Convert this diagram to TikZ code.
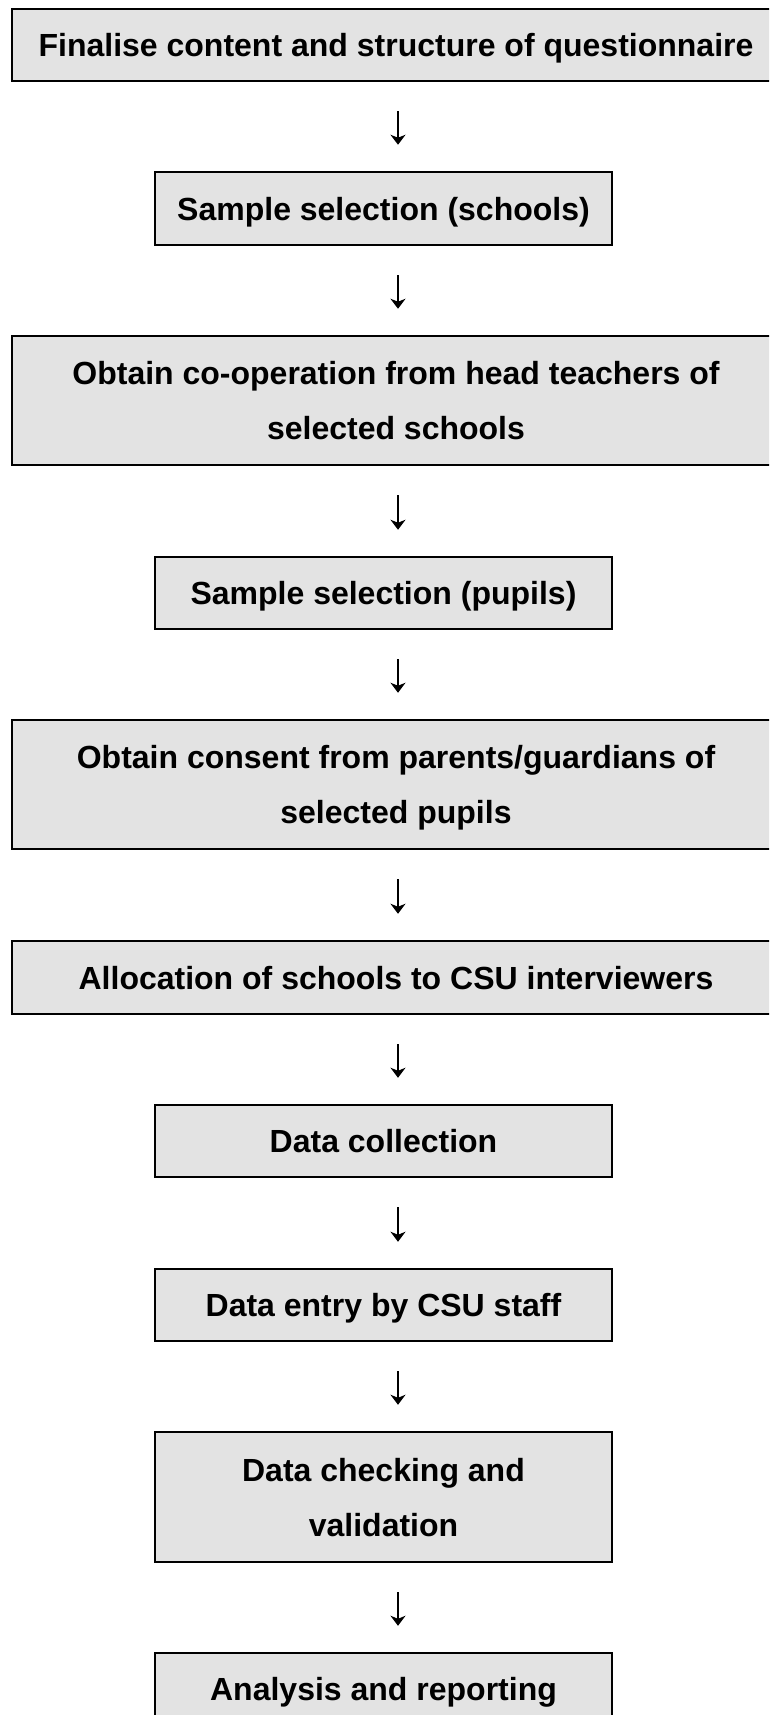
\documentclass[tikz,border=0pt]{standalone}
\usepackage{fontspec}
\setmainfont{Liberation Sans}
\usetikzlibrary{arrows.meta}
\definecolor{boxfill}{RGB}{227,227,227}
\begin{document}
\begin{tikzpicture}[x=1pt,y=-1pt,
  box/.style={draw=black, line width=2.5pt, fill=boxfill,
    font=\fontsize{32}{55}\selectfont\bfseries, align=center, inner sep=0pt},
  wide/.style={box, minimum width=768pt},
  narrow/.style={box, minimum width=457pt},
  one/.style={text height=23pt, text depth=0pt},
  two/.style={text height=78pt, text depth=0pt},
  arr/.style={line width=1.3pt, -{Stealth[length=10pt,width=15pt,inset=3pt]},
    shorten <=29pt, shorten >=26pt}]
\useasboundingbox (0,0) rectangle (769,1715);
\clip (0,0) rectangle (769,1715);
\coordinate (ax) at (398,0);
\node[wide,one,minimum height=72pt] (n1) at (396,45) {Finalise content and structure of questionnaire};
\node[narrow,one,minimum height=73pt] (n2) at (383.5,208.5) {Sample selection (schools)};
\node[wide,two,minimum height=129pt] (n3) at (396,400.5) {Obtain co-operation from head teachers of\\selected schools};
\node[narrow,one,minimum height=72pt] (n4) at (383.5,593) {Sample selection (pupils)};
\node[wide,two,minimum height=129pt] (n5) at (396,784.5) {Obtain consent from parents/guardians of\\selected pupils};
\node[wide,one,minimum height=73pt] (n6) at (396,977.5) {Allocation of schools to CSU interviewers};
\node[narrow,one,minimum height=72pt] (n7) at (383.5,1141) {Data collection};
\node[narrow,one,minimum height=72pt] (n8) at (383.5,1305) {Data entry by CSU staff};
\node[narrow,two,minimum height=130pt] (n9) at (383.5,1497) {Data checking and\\validation};
\node[narrow,one,minimum height=72pt] (n10) at (383.5,1689) {Analysis and reporting};
\foreach \a/\b in {n1/n2,n2/n3,n3/n4,n4/n5,n5/n6,n6/n7,n7/n8,n8/n9,n9/n10}
  \draw[arr] (\a.south -| ax) -- (\b.north -| ax);
\end{tikzpicture}
\end{document}
